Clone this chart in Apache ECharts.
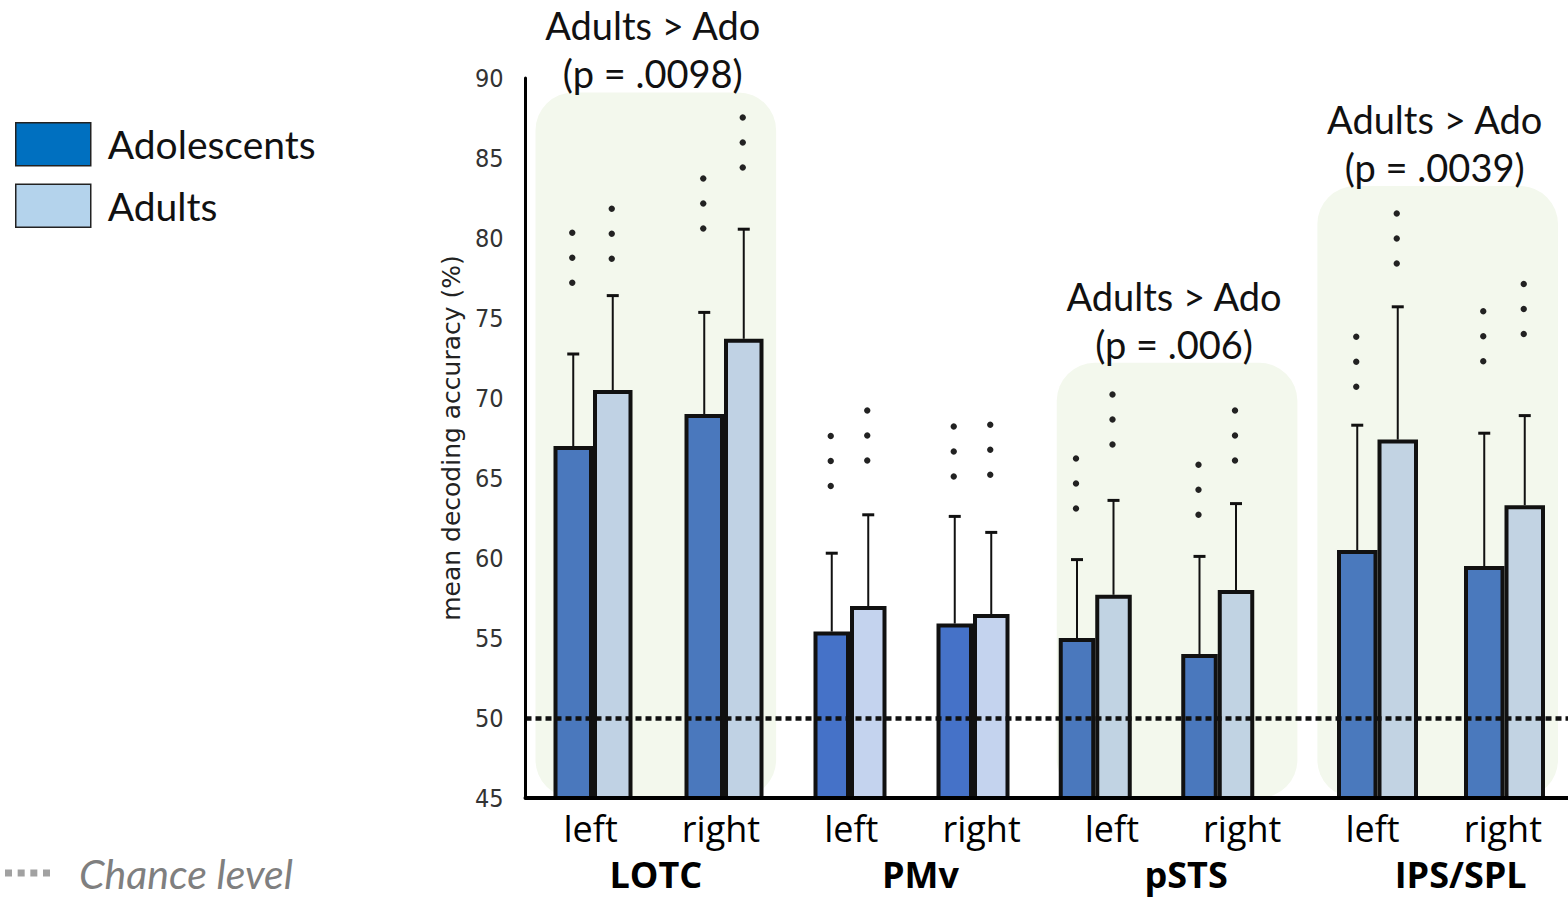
<!DOCTYPE html>
<html>
<head>
<meta charset="utf-8">
<script src="https://cdn.jsdelivr.net/npm/echarts@6/dist/echarts.min.js"></script>
<style>
html,body{margin:0;padding:0;background:#fff}
#chart{width:1568px;height:897px}
</style>
</head>
<body>
<div id="chart"></div>
<script>
// Mean decoding accuracy per region of interest and hemisphere, adolescents vs adults

const sides = ['left', 'right', 'left', 'right', 'left', 'right', 'left', 'right'];
const regions = ['LOTC', 'PMv', 'pSTS', 'IPS/SPL'];
const groups = ['Adolescents', 'Adults'];

const adoMean   = [67.0, 69.0, 55.4, 55.9, 55.0, 54.0, 60.5, 59.5];
const adultMean = [70.5, 73.7, 57.0, 56.5, 57.7, 58.0, 67.4, 63.3];
const adoErr    = [5.75, 6.35, 4.9, 6.7, 4.9, 6.1, 7.8, 8.3];
const adultErr  = [5.9, 6.85, 5.7, 5.1, 5.9, 5.4, 8.3, 5.6];

// level of the lowest asterisk of each significance marker
const adoStarLevel   = [77.2, 80.6, 64.5, 65.1, 63.1, 62.7, 70.7, 72.3];
const adultStarLevel = [78.7, 84.4, 66.1, 65.2, 67.1, 66.1, 78.4, 74.0];
const adoSig   = ['***', '***', '***', '***', '***', '***', '***', '***'];
const adultSig = ['***', '***', '***', '***', '***', '***', '***', '***'];

// group contrasts, highlighted regions
const contrastRegion = [0, 2, 3];
const contrastText = ['Adults > Ado', 'Adults > Ado', 'Adults > Ado'];
const contrastP = ['(p = .0098)', '(p = .006)', '(p = .0039)'];
const contrastTop = [89.1, 72.2, 83.25];

const chanceLevel = 50;
const yMin = 45, yMax = 90, yStep = 5;

// ---- layout & style ----
const plotTop = 78, plotHeight = 720;
const barGridLeft  = [527.5, 788.5, 1034, 1314];
const barGridWidth = [262, 246, 245, 262];
const barWidths    = [39.5, 36.5, 36.5, 40.5];
const adoColors    = ['#4a78bd', '#4572c8', '#4a78bd', '#4a79bd'];
const adultColors  = ['#c0d2e4', '#c4d3ee', '#c1d3e3', '#c2d3e3'];
const regionLabelShift = [0, 8, 18, 46];
const panelInset = 10;
const starStep = 25;

const grids = [{ left: 525.5, top: plotTop, width: 1048, height: plotHeight }];
const xAxes = [
  {
    gridIndex: 0, type: 'category', data: sides, position: 'bottom', z: 5,
    axisLine: { show: true, lineStyle: { color: '#000', width: 4 } },
    axisTick: { show: false },
    axisLabel: { margin: 12, fontFamily: 'Open Sans', fontSize: 36, color: '#000' }
  },
  {
    gridIndex: 0, type: 'category', position: 'bottom',
    data: regions.map((r, i) => ({ value: r, textStyle: { padding: [0, 0, 0, regionLabelShift[i]] } })),
    axisLine: { show: false }, axisTick: { show: false },
    axisLabel: { margin: 58, fontFamily: 'Open Sans', fontWeight: 'bold', fontSize: 36, color: '#000' }
  }
];
const yAxes = [{
  gridIndex: 0, type: 'value', min: yMin, max: yMax, interval: yStep, z: 5,
  axisLine: { show: true, lineStyle: { color: '#000', width: 3 } },
  axisTick: { show: false },
  splitLine: { show: false },
  axisLabel: { margin: 22, fontFamily: 'DejaVu Sans Condensed, DejaVu Sans', fontSize: 25, color: '#333' },
  name: 'mean decoding accuracy (%)', nameLocation: 'middle', nameGap: 60, nameRotate: 90,
  nameTextStyle: { fontFamily: 'DejaVu Sans', fontSize: 25, color: '#222' }
}];

const series = [];

// highlighted region panels with the contrast statement above each
series.push({
  type: 'custom', name: 'contrast', xAxisIndex: 0, yAxisIndex: 0, z: 1, silent: true,
  data: contrastRegion.map((r, k) => [r * 2, contrastTop[k], k]),
  renderItem(params, api) {
    const c = api.value(0), top = api.value(1), k = api.value(2);
    const band = api.size([1, 0])[0];
    const p0 = api.coord([c, top]);
    const p1 = api.coord([c + 1, yMin]);
    const x0 = p0[0] - band / 2 + panelInset;
    const x1 = p1[0] + band / 2 - panelInset;
    return {
      type: 'group',
      children: [
        { type: 'rect', shape: { x: x0, y: p0[1], width: x1 - x0, height: p1[1] - p0[1], r: 38 },
          style: { fill: '#f3f8ed' } },
        { type: 'text', style: {
            text: contrastText[k] + '\n' + contrastP[k], x: (x0 + x1) / 2 - 3, y: p0[1] + 5,
            align: 'center', verticalAlign: 'bottom', fontFamily: 'Lato', fontSize: 38,
            lineHeight: 48, fill: '#111' } }
      ]
    };
  }
});

// chance level
series.push({
  type: 'scatter', name: 'Chance level', xAxisIndex: 0, yAxisIndex: 0, data: [], z: 10,
  itemStyle: { color: '#8a8a8a' },
  markLine: {
    silent: true, symbol: ['none', 'none'], label: { show: false },
    lineStyle: { color: '#111', width: 4.5, type: [6, 4], opacity: 1 },
    emphasis: { disabled: true },
    data: [{ yAxis: chanceLevel }]
  }
});

regions.forEach((reg, i) => {
  grids.push({ left: barGridLeft[i], top: plotTop, width: barGridWidth[i], height: plotHeight });
  const xi = xAxes.length, yi = yAxes.length;
  xAxes.push({ gridIndex: i + 1, type: 'category', data: sides.slice(2 * i, 2 * i + 2), show: false });
  yAxes.push({ gridIndex: i + 1, type: 'value', min: yMin, max: yMax, interval: yStep, show: false });

  const pick = arr => arr.slice(2 * i, 2 * i + 2);
  const bw = barWidths[i];
  series.push({
    type: 'bar', name: groups[0], xAxisIndex: xi, yAxisIndex: yi, z: 2,
    data: pick(adoMean), barWidth: bw, barGap: '0%',
    itemStyle: { color: adoColors[i], borderColor: '#111', borderWidth: 4 }
  });
  series.push({
    type: 'bar', name: groups[1], xAxisIndex: xi, yAxisIndex: yi, z: 2,
    data: pick(adultMean), barWidth: bw, barGap: '0%',
    itemStyle: { color: adultColors[i], borderColor: '#111', borderWidth: 4 }
  });

  // error bars and significance asterisks
  const errData = [];
  for (let j = 0; j < 2; j++) {
    const n = 2 * i + j;
    errData.push([j, adoMean[n], adoMean[n] + adoErr[n], adoStarLevel[n], -1, adoSig[n].length]);
    errData.push([j, adultMean[n], adultMean[n] + adultErr[n], adultStarLevel[n], 1, adultSig[n].length]);
  }
  series.push({
    type: 'custom', name: 'err-' + reg, xAxisIndex: xi, yAxisIndex: yi, z: 3, silent: true,
    data: errData,
    renderItem(params, api) {
      const base = api.coord([api.value(0), api.value(1)]);
      const x = base[0] + api.value(4) * bw / 2;
      const yTop = api.coord([api.value(0), api.value(2)])[1];
      const yStar = api.coord([api.value(0), api.value(3)])[1];
      const children = [
        { type: 'line', shape: { x1: x, y1: base[1], x2: x, y2: yTop }, style: { stroke: '#111', lineWidth: 2 } },
        { type: 'line', shape: { x1: x - 6, y1: yTop, x2: x + 6, y2: yTop }, style: { stroke: '#111', lineWidth: 3 } }
      ];
      for (let s = 0; s < api.value(5); s++) {
        children.push({ type: 'circle', shape: { cx: x - 1, cy: yStar - s * starStep, r: 3.2 },
          style: { fill: '#222' } });
      }
      return { type: 'group', children };
    }
  });
});

const chart = echarts.init(document.getElementById('chart'), null, { renderer: 'svg' });
chart.setOption({
  animation: false,
  backgroundColor: '#fff',
  grid: grids,
  xAxis: xAxes,
  yAxis: yAxes,
  legend: [
    {
      data: [
        { name: groups[0], itemStyle: { color: '#0070c0' } },
        { name: groups[1], itemStyle: { color: '#b4d3ec' } }
      ],
      orient: 'vertical', left: 15, top: 122, padding: 0,
      icon: 'rect', itemWidth: 75, itemHeight: 43, itemGap: 17,
      itemStyle: { borderColor: '#222', borderWidth: 1.5 },
      selectedMode: false,
      textStyle: { fontFamily: 'Lato', fontSize: 39, color: '#111', padding: [0, 0, 0, 12] }
    },
    {
      data: [{ name: 'Chance level', itemStyle: { color: '#8a8a8a' } }],
      left: 5, top: 852, padding: 0,
      icon: 'path://M0,0h7v7h-7zM12.67,0h7v7h-7zM25.33,0h7v7h-7zM38,0h7v7h-7z',
      itemWidth: 45, itemHeight: 7, selectedMode: false,
      textStyle: { fontFamily: 'Lato', fontStyle: 'italic', fontSize: 41, lineHeight: 42, color: '#7f7f7f', padding: [0, 0, 0, 24] }
    }
  ],
  series
});
</script>
</body>
</html>
